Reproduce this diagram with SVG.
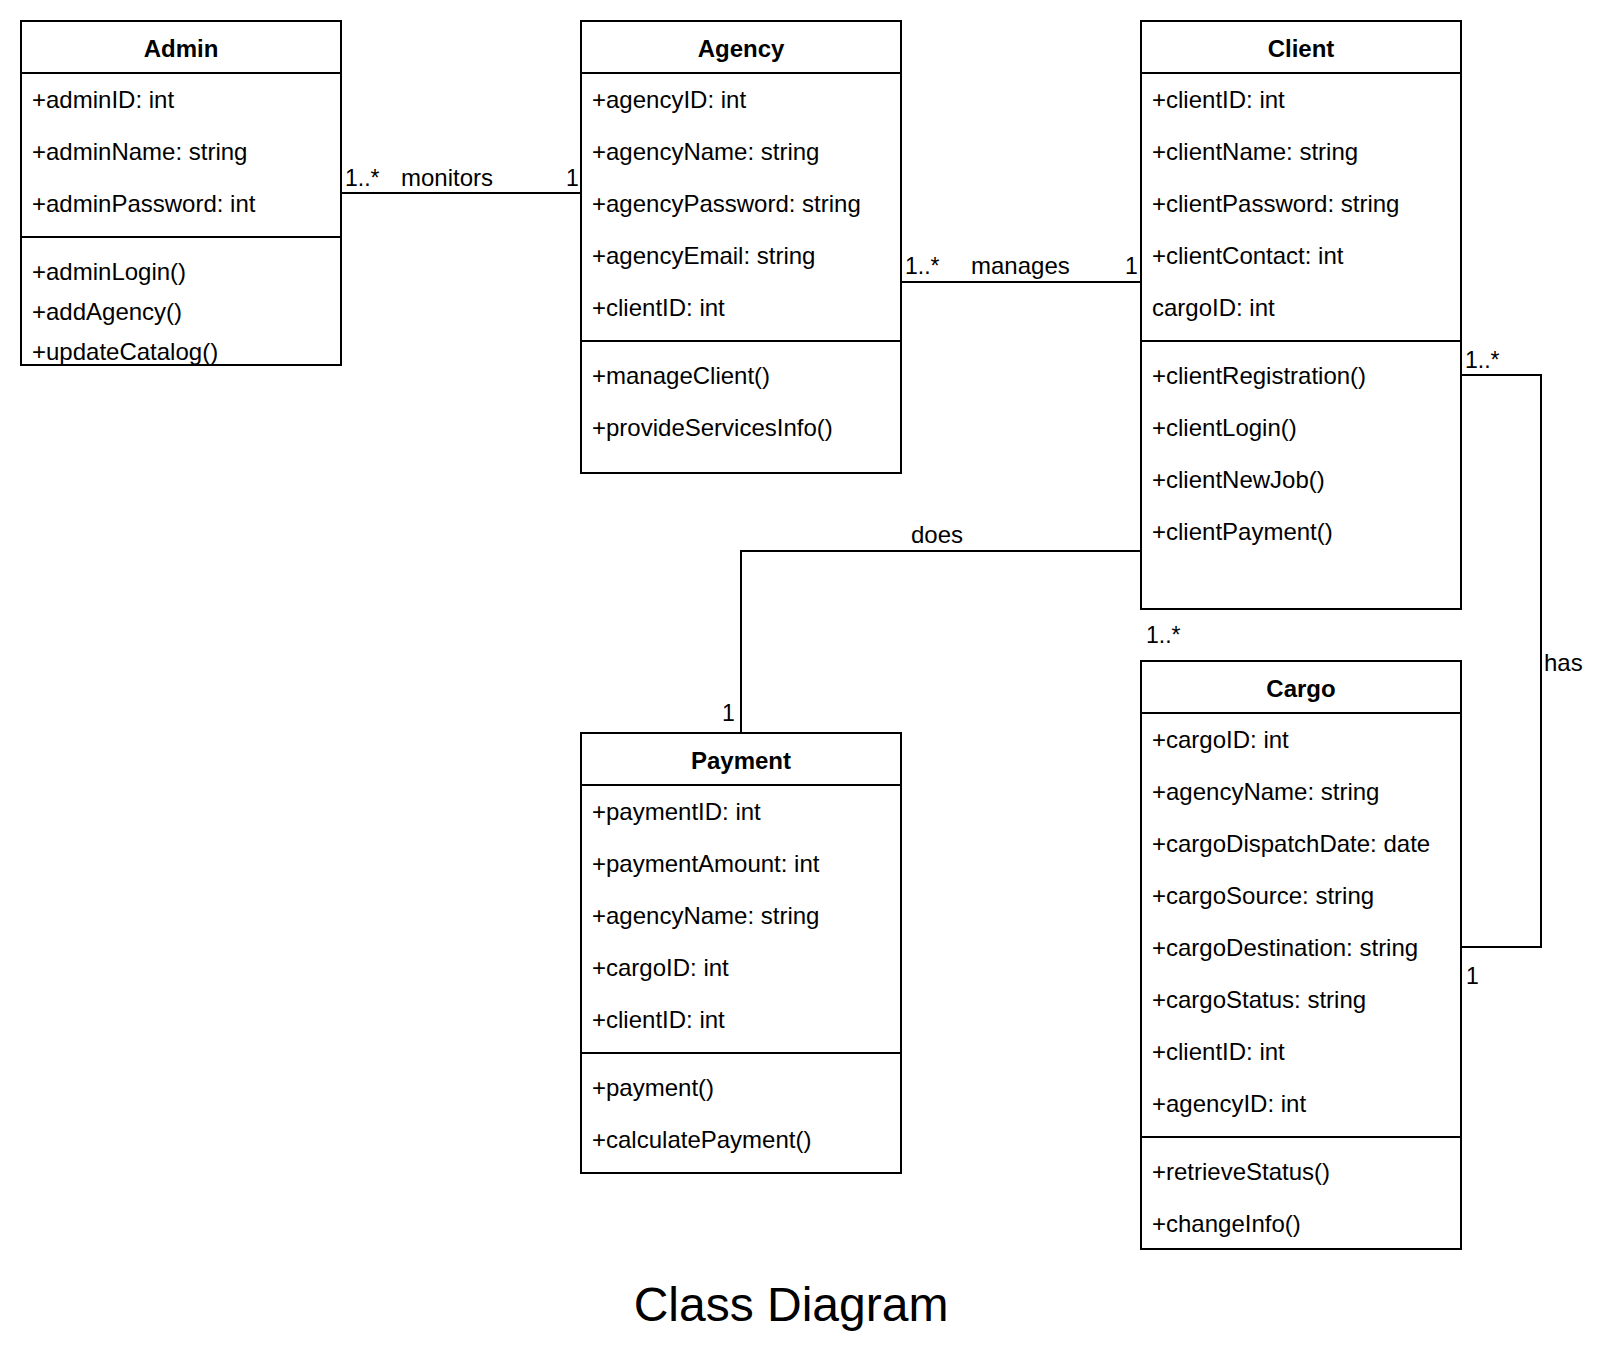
<svg xmlns="http://www.w3.org/2000/svg" width="1602" height="1354" viewBox="0 0 1602 1354">
  <style>
    .box { fill: #ffffff; stroke: #000000; stroke-width: 2; }
    .sep { stroke: #000000; stroke-width: 2; }
    .conn { fill: none; stroke: #000000; stroke-width: 2; }
    text { font-family: "Liberation Sans", Arial, sans-serif; fill: #000000; }
    .a { font-size: 24px; }
    .h { font-size: 24px; font-weight: bold; text-anchor: middle; }
    .lbl { font-size: 24px; }
    .m { font-size: 23px; }
    .title { font-size: 48px; text-anchor: middle; }
  </style>
  <rect width="1602" height="1354" fill="#ffffff"/>

  <!-- associations -->
  <g id="connectors">
    <path class="conn" d="M 341 193 L 581 193"/>
    <text class="m" x="345" y="186">1..*</text>
    <text class="lbl" x="401" y="186">monitors</text>
    <text class="m" x="566" y="186">1</text>

    <path class="conn" d="M 901 282 L 1141 282"/>
    <text class="m" x="905" y="274">1..*</text>
    <text class="lbl" x="971" y="274">manages</text>
    <text class="m" x="1125" y="274">1</text>

    <path class="conn" d="M 1141 551 L 741 551 L 741 733"/>
    <text class="lbl" x="911" y="543">does</text>
    <text class="m" x="722" y="721">1</text>
    <text class="m" x="1146" y="643">1..*</text>

    <path class="conn" d="M 1461 375 L 1541 375 L 1541 947 L 1461 947"/>
    <text class="m" x="1465" y="368">1..*</text>
    <text class="lbl" x="1544" y="671">has</text>
    <text class="m" x="1466" y="984">1</text>
  </g>

  <!-- Admin -->
  <g id="admin">
    <rect class="box" x="21" y="21" width="320" height="344"/>
    <line class="sep" x1="21" y1="73" x2="341" y2="73"/>
    <line class="sep" x1="21" y1="237" x2="341" y2="237"/>
    <text class="h" x="181" y="57">Admin</text>
    <text class="a" x="32" y="108">+adminID: int</text>
    <text class="a" x="32" y="160">+adminName: string</text>
    <text class="a" x="32" y="212">+adminPassword: int</text>
    <text class="a" x="32" y="280">+adminLogin()</text>
    <text class="a" x="32" y="320">+addAgency()</text>
    <text class="a" x="32" y="360">+updateCatalog()</text>
  </g>

  <!-- Agency -->
  <g id="agency">
    <rect class="box" x="581" y="21" width="320" height="452"/>
    <line class="sep" x1="581" y1="73" x2="901" y2="73"/>
    <line class="sep" x1="581" y1="341" x2="901" y2="341"/>
    <text class="h" x="741" y="57">Agency</text>
    <text class="a" x="592" y="108">+agencyID: int</text>
    <text class="a" x="592" y="160">+agencyName: string</text>
    <text class="a" x="592" y="212">+agencyPassword: string</text>
    <text class="a" x="592" y="264">+agencyEmail: string</text>
    <text class="a" x="592" y="316">+clientID: int</text>
    <text class="a" x="592" y="384">+manageClient()</text>
    <text class="a" x="592" y="436">+provideServicesInfo()</text>
  </g>

  <!-- Client -->
  <g id="client">
    <rect class="box" x="1141" y="21" width="320" height="588"/>
    <line class="sep" x1="1141" y1="73" x2="1461" y2="73"/>
    <line class="sep" x1="1141" y1="341" x2="1461" y2="341"/>
    <text class="h" x="1301" y="57">Client</text>
    <text class="a" x="1152" y="108">+clientID: int</text>
    <text class="a" x="1152" y="160">+clientName: string</text>
    <text class="a" x="1152" y="212">+clientPassword: string</text>
    <text class="a" x="1152" y="264">+clientContact: int</text>
    <text class="a" x="1152" y="316">cargoID: int</text>
    <text class="a" x="1152" y="384">+clientRegistration()</text>
    <text class="a" x="1152" y="436">+clientLogin()</text>
    <text class="a" x="1152" y="488">+clientNewJob()</text>
    <text class="a" x="1152" y="540">+clientPayment()</text>
  </g>

  <!-- Payment -->
  <g id="payment">
    <rect class="box" x="581" y="733" width="320" height="440"/>
    <line class="sep" x1="581" y1="785" x2="901" y2="785"/>
    <line class="sep" x1="581" y1="1053" x2="901" y2="1053"/>
    <text class="h" x="741" y="769">Payment</text>
    <text class="a" x="592" y="820">+paymentID: int</text>
    <text class="a" x="592" y="872">+paymentAmount: int</text>
    <text class="a" x="592" y="924">+agencyName: string</text>
    <text class="a" x="592" y="976">+cargoID: int</text>
    <text class="a" x="592" y="1028">+clientID: int</text>
    <text class="a" x="592" y="1096">+payment()</text>
    <text class="a" x="592" y="1148">+calculatePayment()</text>
  </g>

  <!-- Cargo -->
  <g id="cargo">
    <rect class="box" x="1141" y="661" width="320" height="588"/>
    <line class="sep" x1="1141" y1="713" x2="1461" y2="713"/>
    <line class="sep" x1="1141" y1="1137" x2="1461" y2="1137"/>
    <text class="h" x="1301" y="697">Cargo</text>
    <text class="a" x="1152" y="748">+cargoID: int</text>
    <text class="a" x="1152" y="800">+agencyName: string</text>
    <text class="a" x="1152" y="852">+cargoDispatchDate: date</text>
    <text class="a" x="1152" y="904">+cargoSource: string</text>
    <text class="a" x="1152" y="956">+cargoDestination: string</text>
    <text class="a" x="1152" y="1008">+cargoStatus: string</text>
    <text class="a" x="1152" y="1060">+clientID: int</text>
    <text class="a" x="1152" y="1112">+agencyID: int</text>
    <text class="a" x="1152" y="1180">+retrieveStatus()</text>
    <text class="a" x="1152" y="1232">+changeInfo()</text>
  </g>

  <text class="title" x="791" y="1321">Class Diagram</text>
</svg>
